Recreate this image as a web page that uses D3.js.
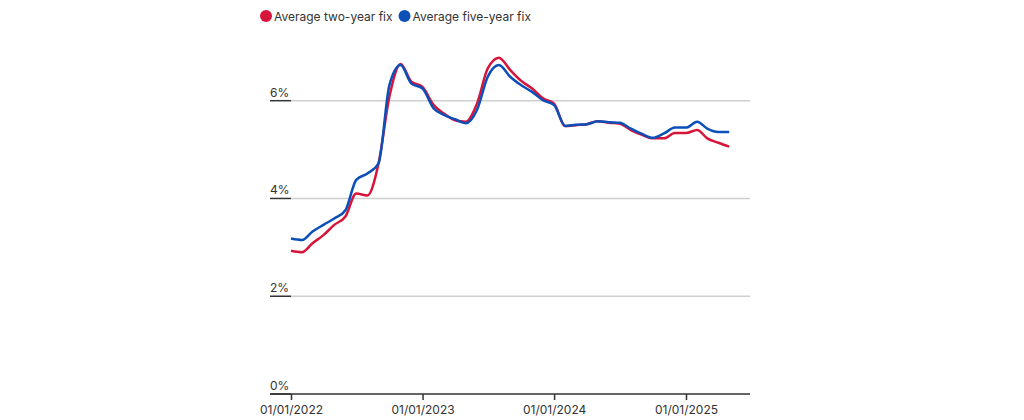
<!DOCTYPE html><html><head><meta charset="utf-8">
<script src="https://cdn.jsdelivr.net/npm/d3@7"></script>
<style>body{margin:0;background:#fff}svg{font-family:Inter,"Open Sans",sans-serif}</style></head><body>
<svg id="c" width="1024" height="420"></svg>
<script>
const startMonth = "2022-01";
const twoYear = [2.93,2.90,3.08,3.25,3.46,3.63,4.10,4.06,4.72,6.08,6.75,6.39,6.28,5.91,5.74,5.60,5.57,5.94,6.66,6.88,6.63,6.41,6.25,6.05,5.94,5.48,5.50,5.52,5.58,5.55,5.53,5.40,5.30,5.23,5.23,5.34,5.34,5.40,5.23,5.14,5.06];
const fiveYear = [3.18,3.15,3.32,3.46,3.59,3.76,4.38,4.51,4.72,6.32,6.73,6.35,6.25,5.84,5.71,5.62,5.54,5.81,6.49,6.73,6.49,6.32,6.18,6.01,5.91,5.48,5.51,5.52,5.58,5.56,5.55,5.43,5.32,5.24,5.33,5.45,5.45,5.57,5.43,5.36,5.36];
const yTicks = [0,2,4,6];
const xTicks = ["2022-01-01","2023-01-01","2024-01-01","2025-01-01"];
const seriesNames = ["Average two-year fix","Average five-year fix"];
const colors = ["#d7153a","#0b4fb8"];

const svg = d3.select("#c");
const parse = d3.timeParse("%Y-%m-%d");
const dates = twoYear.map((_,i)=>d3.timeMonth.offset(parse(startMonth+"-01"),i));
const x = d3.scaleTime().domain([parse("2022-01-01"),parse("2025-01-01")]).range([291,686]);
const y = d3.scaleLinear().domain([0,6]).range([394,100.7]);

// grid
const g = svg.append("g");
yTicks.forEach(t=>{
  if(t>0) g.append("line").attr("x1",291).attr("x2",750).attr("y1",y(t)).attr("y2",y(t)).attr("stroke","#cfcfcf").attr("stroke-width",1.5);
  g.append("line").attr("x1",270).attr("x2",291).attr("y1",y(t)).attr("y2",y(t)).attr("stroke","#333").attr("stroke-width",1.5);
  g.append("text").attr("x",270).attr("y",y(t)-4).text(t+"%").attr("font-size",12).attr("fill","#333");
});
g.append("line").attr("x1",270).attr("x2",750).attr("y1",394).attr("y2",394).attr("stroke","#333").attr("stroke-width",1.5);
const xa = svg.append("g").attr("transform","translate(0,394)")
  .call(d3.axisBottom(x).tickValues(xTicks.map(parse)).tickFormat(d3.timeFormat("%d/%m/%Y")).tickSize(6).tickSizeOuter(0));
xa.select(".domain").remove();
xa.selectAll("line").attr("stroke","#333").attr("stroke-width",1.5);
xa.selectAll("text").attr("font-size",12).attr("fill","#333").attr("dy","0.9em").attr("font-family","Inter,sans-serif");

const line = d3.line().x((d,i)=>x(dates[i])).y(d=>y(d)).curve(d3.curveMonotoneX);
[twoYear,fiveYear].forEach((s,k)=>{
  svg.append("path").attr("d",line(s)).attr("fill","none").attr("stroke",colors[k]).attr("stroke-width",2.5).attr("stroke-linejoin","round");
});

// legend
const lg = svg.append("g");
let lx = 266;
seriesNames.forEach((n,k)=>{
  lg.append("circle").attr("cx",lx).attr("cy",16).attr("r",6).attr("fill",colors[k]);
  const t = lg.append("text").attr("x",lx+8).attr("y",20.5).text(n).attr("font-size",12).attr("fill","#333");
  lx += 8 + t.node().getComputedTextLength() + 12;
});
</script></body></html>
